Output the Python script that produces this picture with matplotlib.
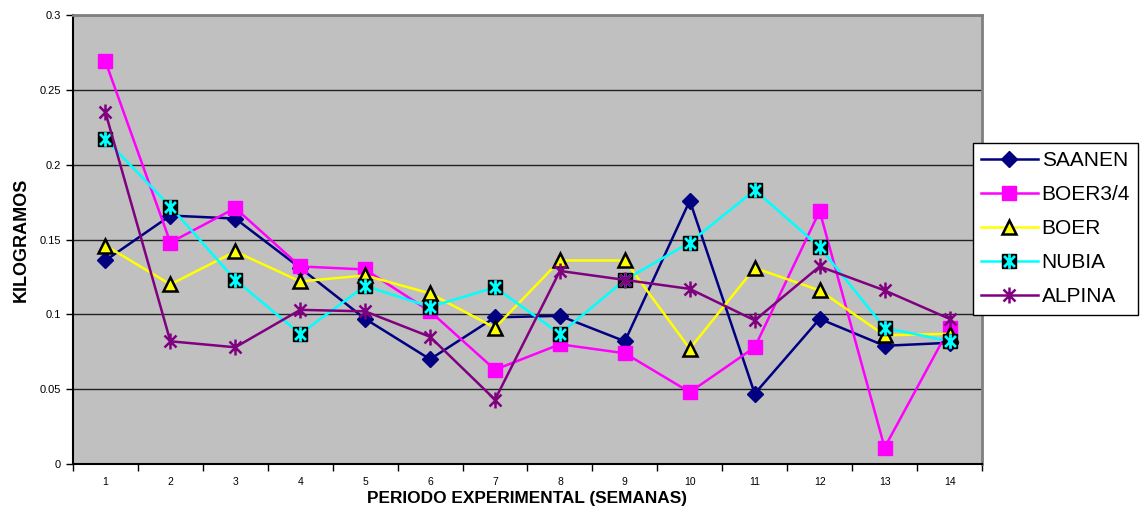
import matplotlib.pyplot as plt
from matplotlib.path import Path
from matplotlib.legend_handler import HandlerTuple
from matplotlib.ticker import FuncFormatter, MultipleLocator

semanas = [str(i) for i in range(1, 15)]

saanen = [0.136, 0.166, 0.164, 0.131, 0.097, 0.070, 0.098, 0.099, 0.082, 0.176, 0.047, 0.097, 0.079, 0.081]
boer34 = [0.269, 0.148, 0.171, 0.132, 0.130, 0.102, 0.063, 0.080, 0.074, 0.048, 0.078, 0.169, 0.011, 0.091]
boer = [0.146, 0.120, 0.142, 0.122, 0.126, 0.114, 0.091, 0.136, 0.136, 0.077, 0.131, 0.116, 0.086, 0.087]
nubia = [0.217, 0.172, 0.123, 0.087, 0.119, 0.105, 0.118, 0.087, 0.123, 0.148, 0.183, 0.145, 0.091, 0.082]
alpina = [0.235, 0.082, 0.078, 0.103, 0.102, 0.085, 0.043, 0.129, 0.123, 0.117, 0.096, 0.132, 0.116, 0.097]

plt.rcParams['font.family'] = ['Liberation Sans', 'DejaVu Sans']

# excel style star: vertical bar plus an X
star = Path([(0, -1), (0, 1), (-0.75, -0.75), (0.75, 0.75), (-0.75, 0.75), (0.75, -0.75)],
            [Path.MOVETO, Path.LINETO, Path.MOVETO, Path.LINETO, Path.MOVETO, Path.LINETO])

fig = plt.figure(figsize=(11.4, 5.12), dpi=100)
ax = fig.add_axes([0.064, 0.0937, 0.7974, 0.877])
ax.set_facecolor('#c0c0c0')

x = list(range(1, 15))
lw = 1.8

h1, = ax.plot(x, saanen, color='#000080', lw=lw, marker='D', markersize=8, label='SAANEN', zorder=3)
h2, = ax.plot(x, boer34, color='#ff00ff', lw=lw, marker='s', markersize=10.5, label='BOER3/4', zorder=3)
h3, = ax.plot(x, boer, color='#ffff00', lw=lw, marker='^', markersize=10, markerfacecolor='#ffff00',
              markeredgecolor='black', markeredgewidth=1.8, label='BOER', zorder=3)
h4a, = ax.plot(x, nubia, color='#00ffff', lw=lw, marker='s', markersize=10.5,
               markerfacecolor='black', markeredgecolor='black', zorder=3)
h4b, = ax.plot(x, nubia, linestyle='none', marker=star, markersize=10.5,
               markeredgecolor='#00ffff', markeredgewidth=2, zorder=3)
h5, = ax.plot(x, alpina, color='#800080', lw=lw, marker=star, markersize=11.5,
              markeredgecolor='#800080', markeredgewidth=1.8, label='ALPINA', zorder=3)

ax.set_xlim(0.5, 14.5)
ax.set_ylim(0, 0.3)
ax.yaxis.set_major_locator(MultipleLocator(0.05))
ax.yaxis.set_major_formatter(FuncFormatter(lambda v, p: '%g' % round(v, 2)))
ax.grid(axis='y', color='#222222', lw=1)
ax.set_axisbelow(True)

ax.set_xticks([i + 0.5 for i in range(0, 15)])
ax.set_xticklabels([])
ax.set_xticks(x, minor=True)
ax.set_xticklabels(semanas, minor=True)
ax.tick_params(axis='x', which='major', direction='out', length=5, width=1)
ax.tick_params(axis='x', which='minor', length=0, pad=9, labelsize=7.5)
ax.tick_params(axis='y', direction='out', length=5, width=1, labelsize=8)

for s in ['left', 'bottom']:
    ax.spines[s].set_color('black')
    ax.spines[s].set_linewidth(1.5)
for s in ['top', 'right']:
    ax.spines[s].set_color('#808080')
    ax.spines[s].set_linewidth(2)

ax.set_ylabel('KILOGRAMOS', fontsize=13, fontweight='bold')
ax.yaxis.set_label_coords(-0.047, 0.5)
ax.set_xlabel('PERIODO EXPERIMENTAL (SEMANAS)', fontsize=12.4, fontweight='bold', labelpad=3)

leg = ax.legend([h1, h2, h3, (h4a, h4b), h5], ['SAANEN', 'BOER3/4', 'BOER', 'NUBIA', 'ALPINA'],
                handler_map={tuple: HandlerTuple(ndivide=1)},
                loc='upper left', bbox_to_anchor=(0.8535, 0.721), bbox_transform=fig.transFigure,
                borderaxespad=0, fontsize=15, handlelength=2.7, handletextpad=0.2,
                labelspacing=0.72, borderpad=0.4, fancybox=False, framealpha=1, edgecolor='black')
leg.get_frame().set_linewidth(1)
leg.set_zorder(10)

fig.savefig('out.png', dpi=100)
